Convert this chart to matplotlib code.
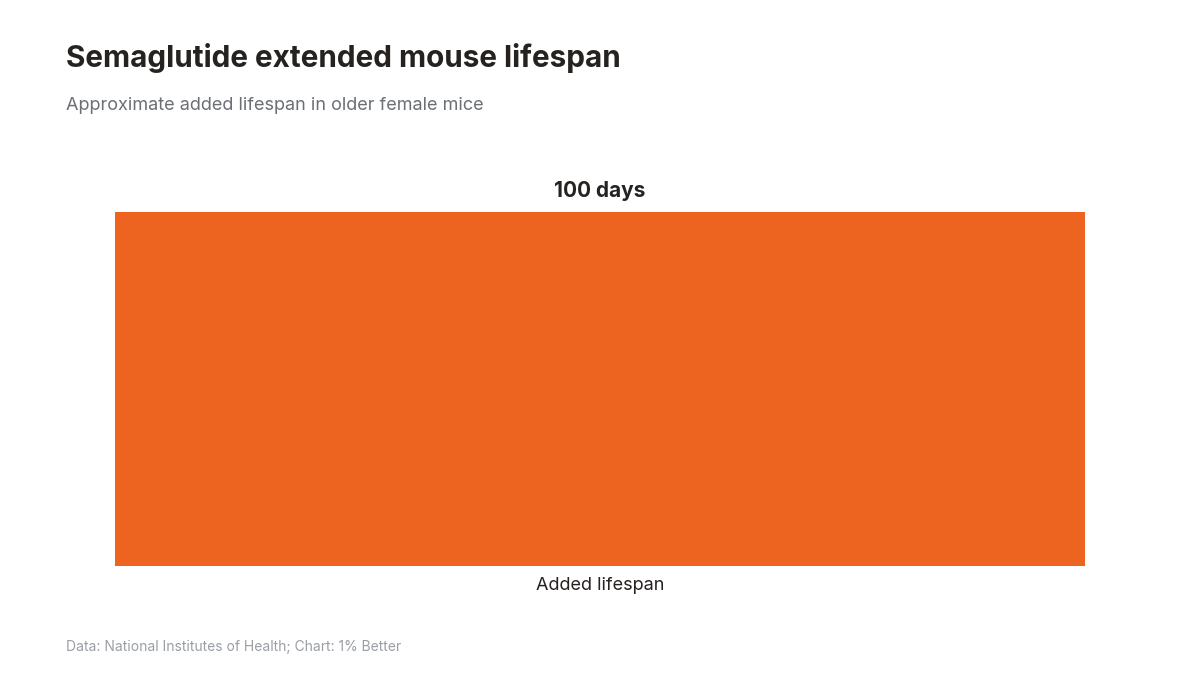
import matplotlib
matplotlib.use("Agg")
import matplotlib.pyplot as plt

categories = ["Added lifespan"]
values = [100]
value_labels = ["100 days"]

plt.rcParams['font.family'] = ['Inter', 'DejaVu Sans']

fig = plt.figure(figsize=(12, 6.75), dpi=100)
ax = fig.add_axes([115 / 1200, 1 - 566 / 675, 970 / 1200, 354 / 675])

bars = ax.bar(categories, values, width=0.8, color="#EC6420")
ax.set_xlim(-0.4, 0.4)
ax.set_ylim(0, max(values))

# value label just above the bar
for bar, lab in zip(bars, value_labels):
    ax.text(bar.get_x() + bar.get_width() / 2, bar.get_height() + 3, lab,
            ha="center", va="bottom", fontsize=15, fontweight="bold",
            color="#262220", clip_on=False)

for side in ["top", "right", "left", "bottom"]:
    ax.spines[side].set_visible(False)
ax.set_yticks([])
ax.tick_params(axis="x", length=0, pad=8, labelsize=13, labelcolor="#262220")

fig.text(66 / 1200, 1 - 58 / 675, "Semaglutide extended mouse lifespan",
         fontsize=21.4, fontweight="bold", color="#262220", va="center")
fig.text(66 / 1200, 1 - 105 / 675, "Approximate added lifespan in older female mice",
         fontsize=13, color="#6b6f76", va="center")
fig.text(66 / 1200, 1 - 647 / 675, "Data: National Institutes of Health; Chart: 1% Better",
         fontsize=10, color="#9a9ea5", va="center")

fig.savefig("out.png", dpi=100)
